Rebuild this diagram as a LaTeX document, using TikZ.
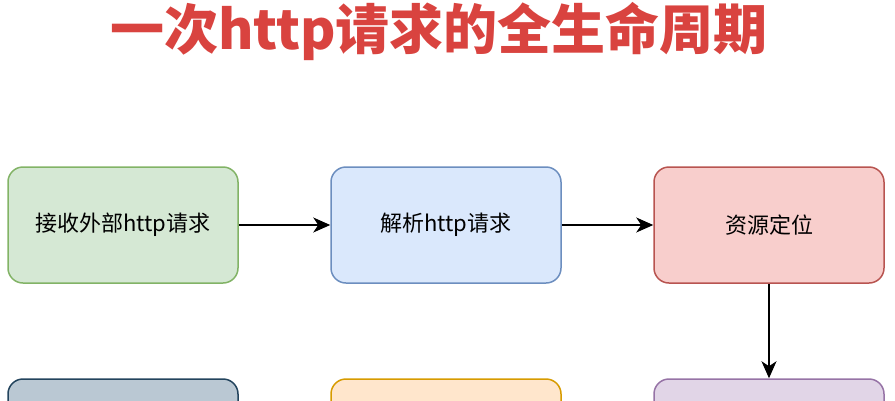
\documentclass[tikz,border=0pt]{standalone}
\usepackage{fontspec}
\usepackage{xcolor}
\usetikzlibrary{arrows.meta}
\newfontfamily\cjk{Noto Sans CJK SC}
\definecolor{titlered}{HTML}{D9433F}
\definecolor{greenfill}{HTML}{D5E8D4}\definecolor{greenline}{HTML}{82B366}
\definecolor{bluefill}{HTML}{DAE8FC}\definecolor{blueline}{HTML}{6C8EBF}
\definecolor{redfill}{HTML}{F8CECC}\definecolor{redline}{HTML}{B85450}
\definecolor{grayfill}{HTML}{BAC8D3}\definecolor{grayline}{HTML}{23445D}
\definecolor{orangefill}{HTML}{FFE6CC}\definecolor{orangeline}{HTML}{D79B00}
\definecolor{purplefill}{HTML}{E1D5E7}\definecolor{purpleline}{HTML}{9673A6}
\tikzset{
  stagebox/.style={draw, rounded corners=15pt, line width=1.5pt, minimum width=230pt,
    minimum height=116pt, font=\cjk\fontsize{22}{26}\selectfont},
  flow/.style={line width=1.6pt, -{Stealth[length=17pt,width=15pt,inset=5pt]}}
}
\begin{document}
\begin{tikzpicture}[x=1pt,y=-1pt]
            \useasboundingbox (0,0) rectangle (895,400);
            \clip (0,0) rectangle (895,400);
            \node (title) at (439,31) [text=titlered, font=\cjk\bfseries\fontsize{54}{60}\selectfont] {一次http请求的全生命周期};
            \node (receive) at (123,225) [stagebox, fill=greenfill, draw=greenline] {接收外部http请求};
            \node (parse) at (446,225) [stagebox, fill=bluefill, draw=blueline] {解析http请求};
            \node (locate) at (769,225) [stagebox, fill=redfill, draw=redline] {资源定位};
            \node (lowleft) at (123,437) [stagebox, fill=grayfill, draw=grayline] {};
            \node (lowmid) at (446,437) [stagebox, fill=orangefill, draw=orangeline] {};
            \node (lowright) at (769,437) [stagebox, fill=purplefill, draw=purpleline] {};
            \draw[flow] (receive) -- (parse);
            \draw[flow] (parse) -- (locate);
            \draw[flow] (locate) -- (lowright);
        \end{tikzpicture}
\end{document}
